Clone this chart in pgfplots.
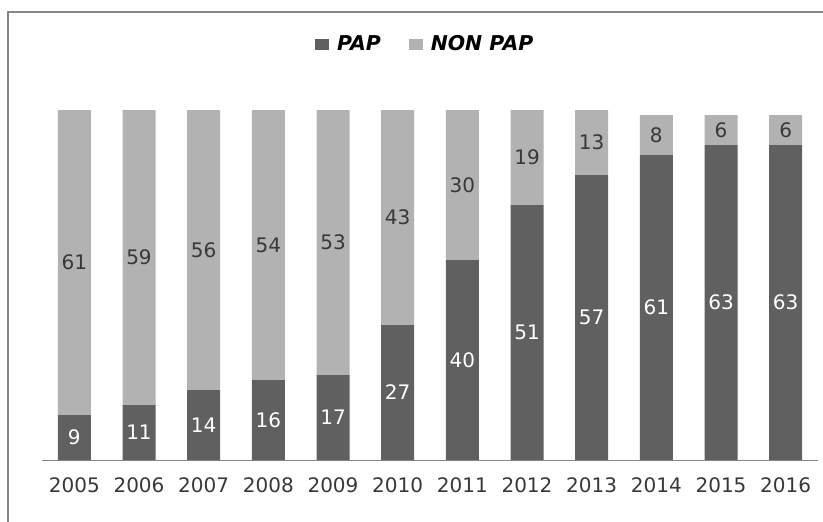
\documentclass[border=0pt]{standalone}
\usepackage{pgfplots}
\usepackage{pgfplotstable}
\pgfplotsset{compat=1.18}
\usepackage{fontspec}
\setmainfont{DejaVu Sans}
\definecolor{papc}{HTML}{606060}
\definecolor{nonc}{HTML}{B2B2B2}
\definecolor{bordc}{HTML}{878787}
\definecolor{txtc}{HTML}{383838}
\pgfplotstableread{
x pap non
0 9 61
1 11 59
2 14 56
3 16 54
4 17 53
5 27 43
6 40 30
7 51 19
8 57 13
9 61 8
10 63 6
11 63 6
}\datatable
\begin{document}
\begin{tikzpicture}
\useasboundingbox (0,0) rectangle (411.5pt,260.5pt);
\draw[bordc, line width=1pt] (4pt,-2pt) -- (4pt,254.5pt) -- (413pt,254.5pt);
\begin{axis}[
  at={(21pt,30.5pt)}, anchor=south west,
  scale only axis, width=388pt, height=175pt,
  ybar stacked, bar width=16.5pt,
  xmin=-0.5, xmax=11.5, ymin=0, ymax=70,
  axis y line=none,
  axis x line*=bottom,
  x axis line style={draw=bordc, line width=0.5pt, -},
  xtick=data,
  xticklabels={2005,2006,2007,2008,2009,2010,2011,2012,2013,2014,2015,2016},
  major tick length=0pt,
  xticklabel style={font=\fontsize{10}{12}\selectfont, text=txtc, yshift=-5.5pt},
  /pgf/number format/assume math mode=true,
  point meta=explicit,
  nodes near coords,
  legend style={at={(0.495,1.186)}, anchor=center, draw=none, fill=none,
    legend columns=2, font=\fontsize{10.2}{12}\selectfont\bfseries\itshape,
    /tikz/every even column/.append style={column sep=12pt}},
  legend image code/.code={\fill[#1] (0pt,-2.7pt) rectangle (7pt,2.7pt);},
]
\addplot[fill=papc, draw=none,
  every node near coord/.style={font=\fontsize{10}{12}\selectfont, text=white, anchor=center}]
  table[x=x, y=pap, meta=pap] {\datatable};
\addlegendentry{\hspace{2pt}PAP}
\addplot[fill=nonc, draw=none,
  every node near coord/.style={font=\fontsize{10}{12}\selectfont, text=txtc, anchor=center}]
  table[x=x, y=non, meta=non] {\datatable};
\addlegendentry{\hspace{2pt}NON PAP}
\end{axis}
\end{tikzpicture}
\end{document}
